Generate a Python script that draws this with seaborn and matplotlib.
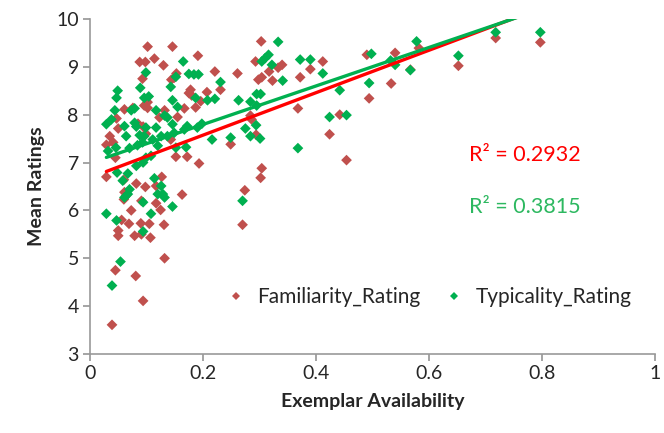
import numpy as np
import pandas as pd
import seaborn as sns
import matplotlib.pyplot as plt

sns.set_theme(style="white")
plt.rcParams['font.family'] = ['Lato', 'DejaVu Sans']

# Familiarity ratings (dark red diamonds)
fam_x = [0.102, 0.146, 0.114, 0.191, 0.088, 0.098, 0.130, 0.153, 0.149, 0.144,
         0.093, 0.221, 0.261, 0.178, 0.175, 0.180, 0.207, 0.231, 0.196, 0.187,
         0.167, 0.155, 0.102, 0.096, 0.102, 0.076, 0.061, 0.132, 0.047, 0.123,
         0.050, 0.085, 0.094, 0.035, 0.029, 0.041, 0.045, 0.029, 0.060, 0.082,
         0.098, 0.127, 0.117, 0.061, 0.064, 0.060, 0.091, 0.117, 0.163, 0.073,
         0.125, 0.056, 0.069, 0.090, 0.105, 0.131, 0.050, 0.050, 0.079, 0.091,
         0.107, 0.132, 0.045, 0.081, 0.094, 0.039, 0.143, 0.152, 0.172, 0.193,
         0.274, 0.270, 0.249, 0.303, 0.293, 0.304, 0.298, 0.317, 0.333, 0.340,
         0.323, 0.372, 0.390, 0.412, 0.490, 0.540, 0.533, 0.567, 0.494, 0.368,
         0.284, 0.442, 0.424, 0.294, 0.454, 0.304, 0.302, 0.582, 0.652, 0.718,
         0.797, 0.286, 0.099]
fam_y = [9.42, 9.42, 9.17, 9.23, 9.10, 9.10, 9.03, 8.86, 8.77, 8.73,
         8.75, 8.90, 8.86, 8.52, 8.45, 8.40, 8.47, 8.52, 8.28, 8.15,
         8.13, 7.95, 8.26, 8.19, 8.14, 8.14, 8.11, 8.09, 7.92, 7.94,
         7.71, 7.81, 7.75, 7.55, 7.37, 7.42, 7.10, 6.70, 6.64, 6.56,
         6.49, 6.70, 6.51, 6.38, 6.31, 6.23, 6.20, 6.15, 6.33, 6.00,
         6.01, 5.80, 5.72, 5.73, 5.72, 5.70, 5.58, 5.47, 5.47, 5.50,
         5.43, 5.00, 4.75, 4.63, 4.11, 3.61, 7.48, 7.12, 7.12, 6.98,
         6.42, 5.70, 7.38, 9.53, 9.11, 8.78, 8.73, 8.90, 8.98, 9.04,
         8.71, 8.78, 8.95, 9.11, 9.25, 9.29, 8.65, 8.94, 8.34, 8.13,
         7.98, 8.00, 7.59, 7.58, 7.05, 6.88, 6.68, 9.39, 9.02, 9.60,
         9.51, 7.90, 7.60]

# Typicality ratings (green diamonds)
typ_x = [0.165, 0.099, 0.175, 0.184, 0.192, 0.152, 0.231, 0.089, 0.143, 0.049,
         0.047, 0.096, 0.104, 0.146, 0.187, 0.208, 0.221, 0.263, 0.155, 0.044,
         0.073, 0.079, 0.117, 0.137, 0.132, 0.029, 0.038, 0.061, 0.079, 0.082,
         0.099, 0.117, 0.064, 0.088, 0.096, 0.137, 0.149, 0.146, 0.172, 0.167,
         0.190, 0.198, 0.275, 0.249, 0.126, 0.046, 0.084, 0.120, 0.170, 0.152,
         0.032, 0.048, 0.067, 0.082, 0.094, 0.099, 0.108, 0.058, 0.114, 0.126,
         0.120, 0.129, 0.132, 0.070, 0.067, 0.061, 0.094, 0.146, 0.108, 0.029,
         0.047, 0.094, 0.054, 0.039, 0.270, 0.333, 0.310, 0.316, 0.304, 0.322,
         0.372, 0.390, 0.412, 0.341, 0.498, 0.578, 0.540, 0.532, 0.494, 0.442,
         0.284, 0.295, 0.302, 0.295, 0.424, 0.454, 0.294, 0.284, 0.301, 0.368,
         0.567, 0.652, 0.718, 0.797, 0.216, 0.093, 0.111, 0.070]
typ_y = [9.11, 8.88, 8.85, 8.84, 8.84, 8.79, 8.68, 8.56, 8.58, 8.50,
         8.35, 8.35, 8.38, 8.30, 8.35, 8.30, 8.33, 8.30, 8.16, 8.09,
         8.09, 8.13, 8.09, 7.94, 7.98, 7.80, 7.90, 7.76, 7.83, 7.75,
         7.73, 7.73, 7.55, 7.57, 7.55, 7.55, 7.62, 7.80, 7.76, 7.69,
         7.73, 7.81, 7.71, 7.52, 7.55, 7.31, 7.36, 7.35, 7.32, 7.31,
         7.24, 6.79, 6.77, 6.93, 7.00, 7.10, 7.14, 6.62, 6.67, 6.51,
         6.34, 6.34, 6.27, 6.44, 6.34, 6.27, 6.17, 6.08, 5.93, 5.93,
         5.79, 5.56, 4.93, 4.43, 6.20, 9.52, 9.18, 9.25, 9.11, 9.04,
         9.15, 9.15, 8.86, 8.71, 9.27, 9.53, 9.04, 9.13, 8.66, 8.51,
         8.27, 8.43, 8.43, 8.19, 7.95, 7.99, 7.78, 7.55, 7.50, 7.30,
         8.93, 9.23, 9.72, 9.72, 7.48, 7.42, 7.48, 7.30]

fam = pd.DataFrame({"x": fam_x, "y": fam_y, "series": "Familiarity_Rating"})
typ = pd.DataFrame({"x": typ_x, "y": typ_y, "series": "Typicality_Rating"})
df = pd.concat([fam, typ], ignore_index=True)

point_colors = {"Familiarity_Rating": "#C0504D", "Typicality_Rating": "#00B050"}

fig = plt.figure(figsize=(6.64, 4.33), dpi=100)
ax = fig.add_axes([0.1355, 0.1824, 0.851, 0.774])

sns.scatterplot(data=df, x="x", y="y", hue="series", palette=point_colors,
                marker="D", s=30, linewidth=0, ax=ax)

# linear trend lines like excel
sns.regplot(x=fam_x, y=fam_y, scatter=False, ci=None, truncate=True,
            color="#FF0000", line_kws={"lw": 2.4}, ax=ax)
sns.regplot(x=typ_x, y=typ_y, scatter=False, ci=None, truncate=True,
            color="#00B050", line_kws={"lw": 2.4}, ax=ax)

ax.text(0.77, 7.15, "R² = 0.2932", color="#FF0000", fontsize=15.5,
        ha="center", va="center")
ax.text(0.77, 6.08, "R² = 0.3815", color="#2DB860", fontsize=15.5,
        ha="center", va="center")

ax.set_xlim(0, 1)
ax.set_ylim(3, 10)
ax.set_xticks([0, 0.2, 0.4, 0.6, 0.8, 1])
ax.set_xticklabels(["0", "0.2", "0.4", "0.6", "0.8", "1"])
ax.set_yticks(range(3, 11))
ax.tick_params(axis="both", labelsize=14, length=5, color="#999999",
               direction="out", left=True, bottom=True, pad=3)
ax.set_xlabel("Exemplar Availability", fontsize=14, fontweight="bold", labelpad=8)
ax.set_ylabel("Mean Ratings", fontsize=14, fontweight="bold", labelpad=8)

sns.despine(ax=ax)
for side in ["left", "bottom"]:
    ax.spines[side].set_color("#999999")
    ax.spines[side].set_linewidth(1.2)

ax.legend(loc="center", bbox_to_anchor=(0.59, 0.17), ncol=2, frameon=False,
          fontsize=15, handletextpad=0.05, columnspacing=0.6, markerscale=0.8)

fig.savefig("out.png", dpi=100)
